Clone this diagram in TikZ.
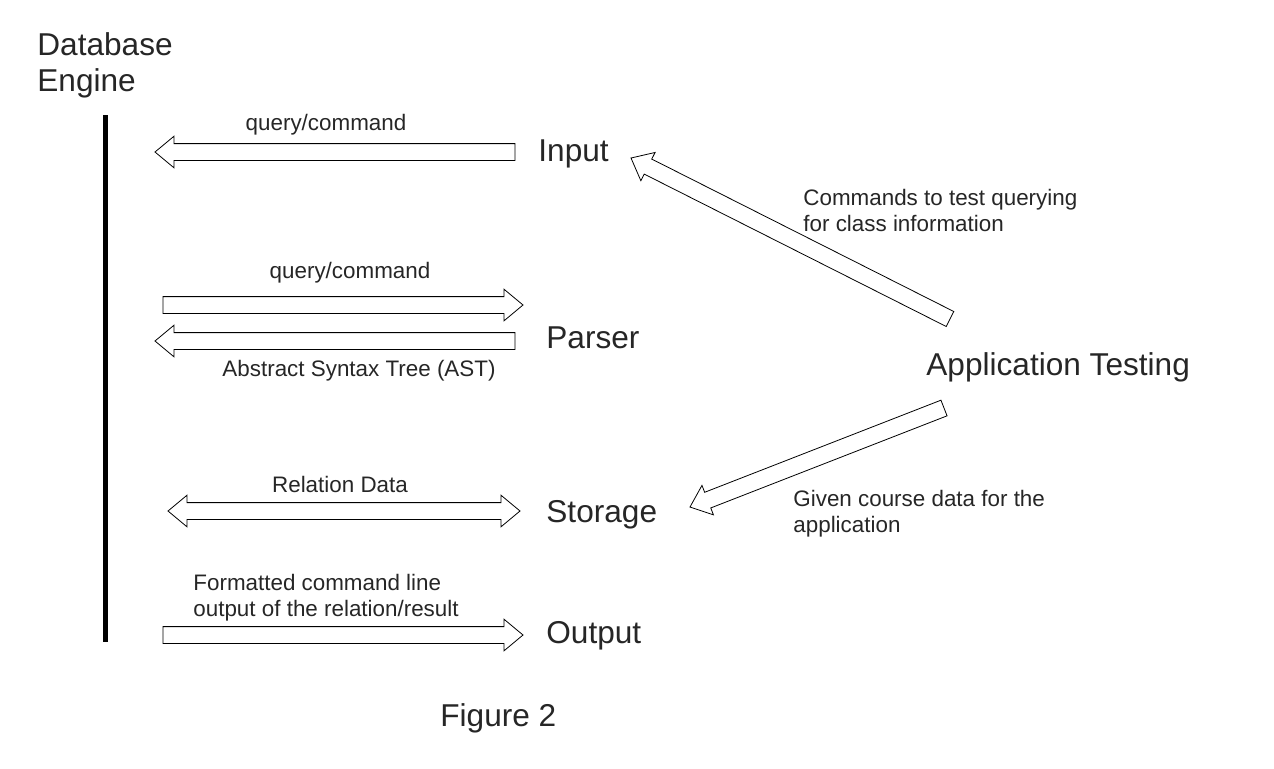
\documentclass[tikz,border=0pt]{standalone}
\usepackage{fontspec}
\setmainfont{Liberation Sans}
\usetikzlibrary{calc}

\tikzset{
	bigtext/.style={font=\fontsize{15.8}{18}\selectfont, text=black!85, inner sep=0pt},
	smalltext/.style={font=\fontsize{11.2}{12.8}\selectfont, text=black!85, inner sep=0pt, align=left},
	% hollow block arrow, tail at the start, head at the target
	blockarrow/.style={draw=black!80, line width=0.75pt, to path={
			($(\tikztotarget)!\headlen!(\tikztostart)$) coordinate (bk)
			($(\tikztostart)!\bodyw!90:(\tikztotarget)$)
			-- ($(bk)!\bodyw!-90:(\tikztostart)$)
			-- ($(bk)!\headw!-90:(\tikztostart)$)
			-- (\tikztotarget)
			-- ($(bk)!\headw!90:(\tikztostart)$)
			-- ($(bk)!\bodyw!90:(\tikztostart)$)
			-- ($(\tikztostart)!\bodyw!-90:(\tikztotarget)$)
			-- cycle}},
	% hollow block arrow with a head at both ends
	blockdarrow/.style={draw=black!80, line width=0.75pt, to path={
			($(\tikztotarget)!\headlen!(\tikztostart)$) coordinate (bk)
			($(\tikztostart)!\headlen!(\tikztotarget)$) coordinate (bs)
			(\tikztostart)
			-- ($(bs)!\headw!90:(\tikztotarget)$)
			-- ($(bs)!\bodyw!90:(\tikztotarget)$)
			-- ($(bk)!\bodyw!-90:(\tikztostart)$)
			-- ($(bk)!\headw!-90:(\tikztostart)$)
			-- (\tikztotarget)
			-- ($(bk)!\headw!90:(\tikztostart)$)
			-- ($(bk)!\bodyw!90:(\tikztostart)$)
			-- ($(bs)!\bodyw!-90:(\tikztotarget)$)
			-- ($(bs)!\headw!-90:(\tikztotarget)$)
			-- cycle}},
}

\begin{document}
\begin{tikzpicture}[x=0.5pt, y=-0.5pt]
		% Arrow parameters
		\def\bodyw{4.2pt}
		\def\headw{7.9pt}
		\def\headlen{9.5pt}
		\useasboundingbox (0,0) rectangle (1274,768);
		
		% Database engine and its bar
		\node[bigtext, align=left, anchor=north west] (engine) at (37,32.5) {Database\\Engine};
		\coordinate (bartop) at (105,115);
		\coordinate (barbot) at (105,642);
		\draw[line width=2.5pt] (bartop) -- (barbot);
		
		% Components on the right of the arrows
		\foreach \name/\x/\y in {Input/538/161, Parser/546/348, Storage/546/522, Output/546/643} {
			\node[bigtext, anchor=base west] (\name) at (\x,\y) {\name};
		}
		\node[bigtext, anchor=base west] (app) at (926,375) {Application Testing};
		\node[bigtext, anchor=base west] (fig) at (440,726) {Figure 2};
		
		% Arrow ends
		\coordinate (inT) at (515,152);   \coordinate (inH) at (155,152);
		\coordinate (paT) at (163,305);   \coordinate (paH) at (523,305);
		\coordinate (astT) at (515,341);  \coordinate (astH) at (155,341);
		\coordinate (stA) at (168,511);   \coordinate (stB) at (520,511);
		\coordinate (outT) at (163,635);  \coordinate (outH) at (523,635);
		\coordinate (apT) at (950,319);   \coordinate (apH) at (631,158);
		\coordinate (adT) at (944,408);   \coordinate (adH) at (690,507);
		
		\draw (inT) to[blockarrow] (inH);
		\draw (paT) to[blockarrow] (paH);
		\draw (astT) to[blockarrow] (astH);
		\draw (stA) to[blockdarrow] (stB);
		\draw (outT) to[blockarrow] (outH);
		\draw (apT) to[blockarrow] (apH);
		\draw (adT) to[blockarrow] (adH);
		
		% Arrow labels
		\node[smalltext, anchor=base] (lq1) at (326,130) {query/command};
		\node[smalltext, anchor=base] (lq2) at (350,278) {query/command};
		\node[smalltext, anchor=base] (last) at (359,376) {Abstract Syntax Tree (AST)};
		\node[smalltext, anchor=base] (lrel) at (340,492) {Relation Data};
		\node[smalltext, anchor=north west] (lout) at (193,574) {Formatted command line\\output of the relation/result};
		\node[smalltext, anchor=north west] (lcmd) at (803,189) {Commands to test querying\\for class information};
		\node[smalltext, anchor=north west] (lgiv) at (793,490) {Given course data for the\\application};
\end{tikzpicture}
\end{document}
